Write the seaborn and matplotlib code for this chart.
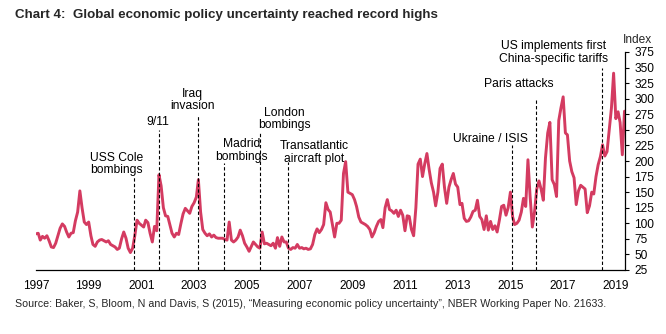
import numpy as np
import pandas as pd
import matplotlib
matplotlib.use("Agg")
import matplotlib.pyplot as plt
import seaborn as sns

# ---- data (monthly index, Jan 1997 - May 2019) ----
v1997 = [83, 84, 73, 79, 76, 80, 72, 62, 61, 68, 80, 92]
v1998 = [99, 95, 86, 78, 84, 85, 104, 118, 152, 125, 102, 98]
v1999 = [102, 80, 66, 63, 70, 73, 74, 72, 70, 72, 66, 64]
v2000 = [62, 58, 60, 75, 86, 76, 60, 53, 60, 80, 105, 100]
v2001 = [97, 94, 105, 101, 84, 70, 95, 88, 178, 160, 125, 112]
v2002 = [111, 97, 84, 78, 84, 82, 99, 115, 124, 120, 116, 127]
v2003 = [133, 142, 170, 118, 90, 84, 80, 83, 78, 81, 77, 76]
v2004 = [76, 76, 74, 73, 102, 73, 70, 73, 78, 89, 80, 68]
v2005 = [62, 55, 62, 70, 66, 62, 60, 86, 67, 68, 66, 64]
v2006 = [68, 60, 77, 63, 78, 70, 70, 60, 58, 61, 60, 66]
v2007 = [60, 61, 59, 60, 58, 59, 66, 82, 91, 85, 90, 98]
v2008 = [133, 122, 118, 98, 78, 100, 100, 105, 180, 199, 150, 148]
v2009 = [146, 138, 127, 110, 102, 100, 98, 95, 90, 78, 85, 95]
v2010 = [103, 106, 93, 125, 138, 122, 120, 116, 121, 111, 121, 113]
v2011 = [88, 112, 111, 90, 80, 125, 195, 203, 175, 195, 212, 187]
v2012 = [165, 150, 128, 150, 188, 195, 158, 132, 158, 170, 180, 163]
v2013 = [158, 130, 132, 108, 103, 104, 110, 119, 121, 137, 111, 106]
v2014 = [90, 112, 89, 103, 90, 96, 86, 105, 127, 129, 113, 125]
v2015 = [150, 110, 98, 100, 105, 118, 140, 127, 202, 143, 94, 118]
v2016 = [155, 168, 155, 137, 205, 245, 262, 170, 162, 143, 265, 285]
v2017 = [303, 245, 242, 200, 183, 173, 130, 152, 161, 158, 155, 117]
v2018 = [128, 150, 147, 175, 194, 207, 226, 208, 215, 250, 285, 341]
v2019 = [268, 279, 262, 210, 280]

index_values = (v1997 + v1998 + v1999 + v2000 + v2001 + v2002 + v2003 + v2004
                + v2005 + v2006 + v2007 + v2008 + v2009 + v2010 + v2011 + v2012
                + v2013 + v2014 + v2015 + v2016 + v2017 + v2018 + v2019)
months = pd.date_range("1997-01-01", periods=len(index_values), freq="MS")

event_labels = ["USS Cole\nbombings", "9/11", "Iraq\ninvasion", "Madrid\nbombings",
                "London\nbombings", "Transatlantic\naircraft plot", "Ukraine / ISIS",
                "Paris attacks", "US implements first\nChina-specific tariffs"]
event_dates = pd.to_datetime(["2000-09-22", "2001-09-05", "2003-02-25", "2004-02-20",
                              "2005-07-03", "2006-07-26", "2015-01-22", "2015-12-22",
                              "2018-06-22"])
event_tops = [174, 250, 274, 197, 247, 199, 226, 301, 350]
label_dates = pd.to_datetime(["2000-01-25", "2001-08-15", "2002-12-15", "2004-10-20",
                              "2006-06-10", "2007-07-20", "2014-04-05", "2015-04-25",
                              "2016-08-25"])
label_values = [195, 263, 298, 217, 267, 214, 235, 323, 374]

year_ticks = pd.to_datetime([f"{y}-01-01" for y in range(1997, 2020, 2)])
year_labels = [str(y) for y in range(1997, 2020, 2)]
y_ticks = list(range(25, 376, 25))

df = pd.DataFrame({"date": months, "index": index_values})

# ---- plot ----
sns.set_style("white")
plt.rcParams["font.family"] = ["Liberation Sans", "DejaVu Sans"]

fig = plt.figure(figsize=(6.66, 3.34), dpi=100)
ax = fig.add_axes([36 / 666, 1 - 270 / 334, (624.5 - 36) / 666, (270 - 52) / 334])

sns.lineplot(data=df, x="date", y="index", ax=ax, color="#D43B61", linewidth=2.1)

ax.vlines(event_dates, 25, event_tops, colors="black", linestyles=(0, (3, 2)), linewidth=0.8)
for lab, d, v in zip(event_labels, label_dates, label_values):
    ax.text(d, v, lab, ha="center", va="center", fontsize=8.7, linespacing=1.05, color="black")

ax.set_xlim(pd.Timestamp("1997-01-01"), pd.Timestamp("2019-05-01"))
ax.set_ylim(25, 375)
ax.set_xticks(year_ticks)
ax.set_xticklabels(year_labels)
ax.set_yticks(y_ticks)
ax.yaxis.tick_right()
ax.set_xlabel("")
ax.set_ylabel("")

for s in ["top", "left"]:
    ax.spines[s].set_visible(False)
for s in ["bottom", "right"]:
    ax.spines[s].set_color("black")
    ax.spines[s].set_linewidth(0.9)

ax.tick_params(axis="x", direction="in", length=3, width=0.8, pad=7, labelsize=8.6, colors="black")
ax.tick_params(axis="y", direction="out", length=3, width=0.8, pad=4, labelsize=8.6,
               colors="black", left=False, right=True, labelleft=False, labelright=True)
ax.grid(False)

fig.text(637 / 666, 1 - 40 / 334, "Index", ha="center", va="center", fontsize=8.6)
fig.text(15 / 666, 1 - 15 / 334, "Chart 4:  Global economic policy uncertainty reached record highs",
         ha="left", va="center", fontsize=9.6, fontweight="bold")
fig.text(15 / 666, 1 - 304 / 334,
         "Source: Baker, S, Bloom, N and Davis, S (2015), \u201cMeasuring economic policy uncertainty\u201d, NBER Working Paper No. 21633.",
         ha="left", va="center", fontsize=7.7)

fig.savefig("out.png", dpi=100)
